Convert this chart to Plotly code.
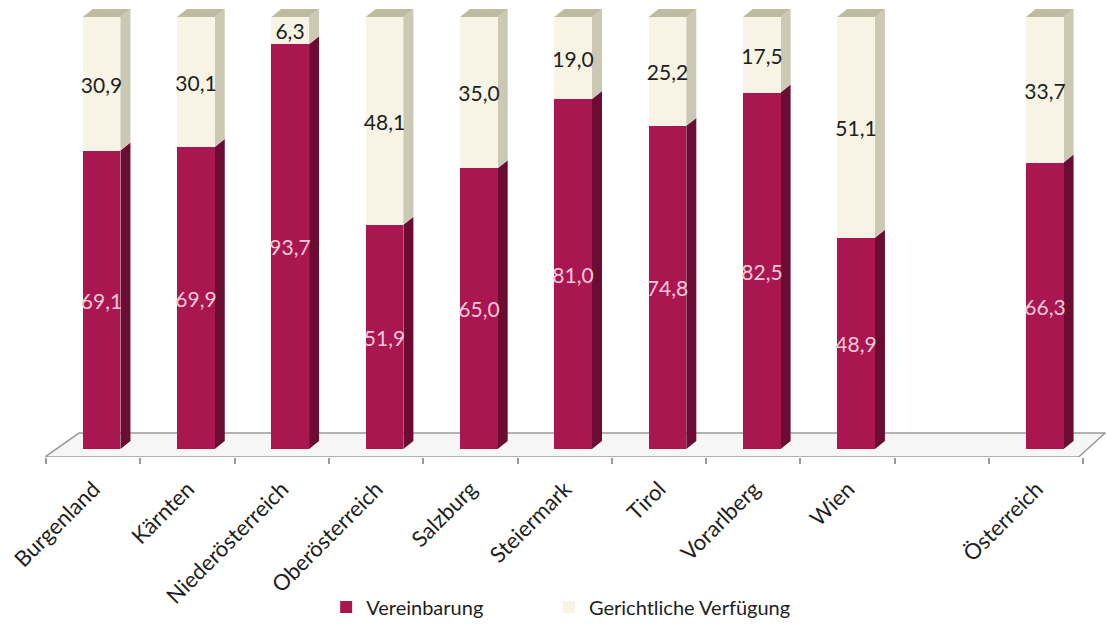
import plotly.graph_objects as go

categories = ["Burgenland", "Kärnten", "Niederösterreich", "Oberösterreich", "Salzburg",
              "Steiermark", "Tirol", "Vorarlberg", "Wien", "", "Österreich"]
vereinbarung = [69.1, 69.9, 93.7, 51.9, 65.0, 81.0, 74.8, 82.5, 48.9, None, 66.3]
gerichtlich = [30.9, 30.1, 6.3, 48.1, 35.0, 19.0, 25.2, 17.5, 51.1, None, 33.7]

x = list(range(len(categories)))
W = 0.4      # front face width (category units)
DX = 0.106   # depth offset in x
DY = 1.85    # depth offset in y

C_RED = "#A91650"
C_RED_SIDE = "#6B0D32"
C_CREAM = "#F7F4E6"
C_CREAM_SIDE = "#CBC8B4"
C_TOP = "#BDBBA0"


def fmt(v):
    return "" if v is None else f"{v:.1f}".replace(".", ",")


fig = go.Figure()
fig.add_trace(go.Bar(
    x=x, y=vereinbarung, name="Vereinbarung", width=W,
    marker=dict(color=C_RED, line=dict(width=0)),
    text=[fmt(v) for v in vereinbarung], textposition="inside",
    insidetextanchor="middle", textangle=0,
    textfont=dict(family="Lato", size=21, color="#F4C9D9"),
    hoverinfo="skip", legend="legend",
))
fig.add_trace(go.Bar(
    x=x, y=gerichtlich, name="Gerichtliche Verfügung", width=W,
    marker=dict(color=C_CREAM, line=dict(width=0)),
    text=[fmt(v) for v in gerichtlich], textposition="inside",
    insidetextanchor="middle", textangle=0,
    textfont=dict(family="Lato", size=21, color="#1E1E1E"),
    hoverinfo="skip", legend="legend2",
))

shapes = []
# floor
fx0, fx1 = -0.6, 10.36
bx0, bx1 = -0.24, 10.64
fy, by = -1.85, 3.7
shapes.append(dict(type="path", xref="x", yref="y", layer="below",
                   path=f"M {fx0},{fy} L {fx1},{fy} L {bx1},{by} L {bx0},{by} Z",
                   fillcolor="#F6F6F6", line=dict(color="#9A9A9A", width=1.5)))

for i, (v, g) in enumerate(zip(vereinbarung, gerichtlich)):
    if v is None:
        continue
    xl, xr = i - W / 2, i + W / 2
    t = v + g
    # side faces
    shapes.append(dict(type="path", xref="x", yref="y", layer="below",
                       path=f"M {xr},0 L {xr+DX},{DY} L {xr+DX},{v+DY} L {xr},{v} Z",
                       fillcolor=C_RED_SIDE, line=dict(width=0)))
    shapes.append(dict(type="path", xref="x", yref="y", layer="below",
                       path=f"M {xr},{v} L {xr+DX},{v+DY} L {xr+DX},{t+DY} L {xr},{t} Z",
                       fillcolor=C_CREAM_SIDE, line=dict(width=0)))
    # top face
    shapes.append(dict(type="path", xref="x", yref="y", layer="below",
                       path=f"M {xl},{t} L {xl+DX},{t+DY} L {xr+DX},{t+DY} L {xr},{t} Z",
                       fillcolor=C_TOP, line=dict(width=0)))

tick_x = [i for i, c in enumerate(categories) if c]
tick_t = [c for c in categories if c]

legend_common = dict(orientation="h", xanchor="left", y=-0.332, yanchor="middle",
                     font=dict(family="Lato", size=20, color="#1E1E1E"),
                     bgcolor="rgba(0,0,0,0)")

fig.update_layout(
    width=1107, height=627,
    margin=dict(l=45, r=1, t=5, b=170, autoexpand=False),
    paper_bgcolor="white", plot_bgcolor="white",
    barmode="stack", bargap=0,
    separators=",.",
    uniformtext=dict(minsize=21, mode="show"),
    shapes=shapes,
    font=dict(family="Lato", color="#1E1E1E"),
    showlegend=True,
    legend=dict(x=0.265, **legend_common),
    legend2=dict(x=0.475, **legend_common),
    xaxis=dict(range=[-0.6, 10.65], tickvals=tick_x, ticktext=tick_t, tickangle=-45,
               automargin=False, ticklabelstandoff=14, ticklabelshift=-8,
               tickfont=dict(family="Lato", size=22, color="#1E1E1E"),
               showgrid=False, zeroline=False, showline=False, ticks="",
               minor=dict(tickvals=[i - 0.59 for i in range(12)], ticks="outside",
                          ticklen=6, tickcolor="#9A9A9A", tickwidth=1.5, showgrid=False)),
    yaxis=dict(range=[-1.85, 102.78], visible=False, showgrid=False, zeroline=False,
               automargin=False),
)

fig.write_html("out.html", config={"displayModeBar": False},
               post_script="document.body.style.margin='0';")
